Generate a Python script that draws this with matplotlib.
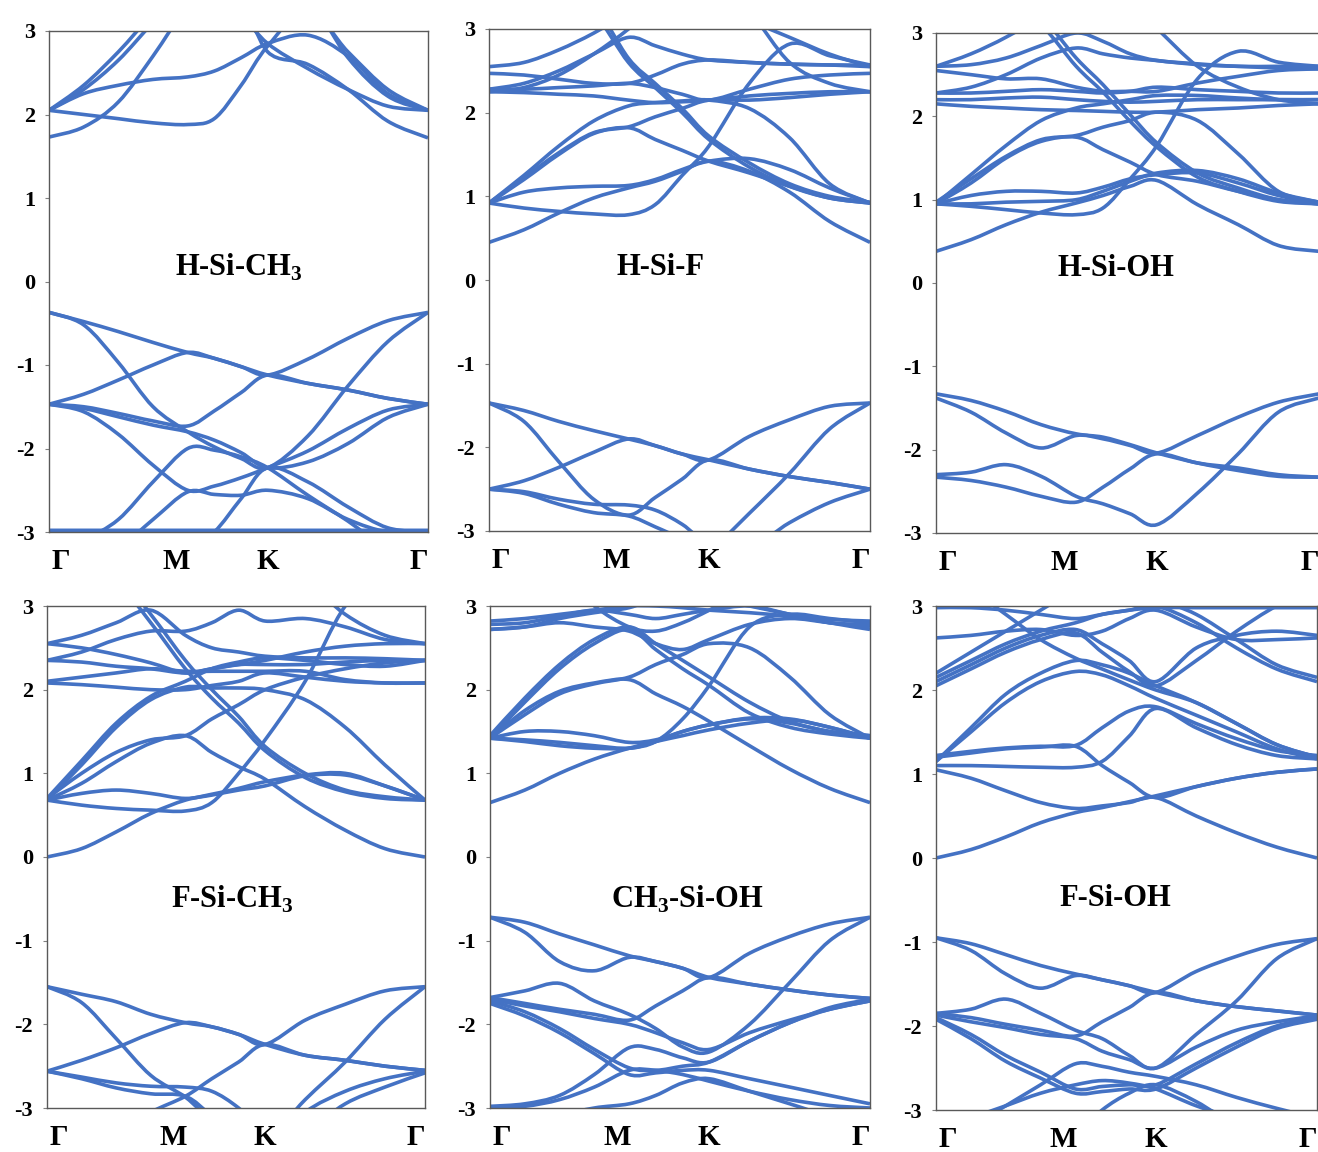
import matplotlib
matplotlib.use("Agg")
import matplotlib.pyplot as plt
from matplotlib.path import Path
from matplotlib.patches import PathPatch
import numpy as np

plt.rcParams['font.family'] = ['Liberation Serif', 'DejaVu Serif']
plt.rcParams['font.weight'] = 'bold'
plt.rcParams['axes.unicode_minus'] = False
plt.rcParams['mathtext.fontset'] = 'custom'
plt.rcParams['mathtext.rm'] = 'Liberation Serif'
plt.rcParams['mathtext.bf'] = 'Liberation Serif:bold'

# k-path sample positions (fraction of the Gamma-M-K-Gamma path)
kpts = [0.0, 0.0915, 0.183, 0.2745, 0.366, 0.436, 0.507, 0.577, 0.683, 0.789, 0.894, 1.0]
k_labels = ['Γ', 'M', 'K', 'Γ']
yticks = [-3, -2, -1, 0, 1, 2, 3]
ytick_labels = ['-3', '-2', '-1', '0', '1', '2', '3']

names = ['H-Si-CH$_\\mathbf{3}$', 'H-Si-F', 'H-Si-OH',
         'F-Si-CH$_\\mathbf{3}$', 'CH$_\\mathbf{3}$-Si-OH', 'F-Si-OH']

# band energies (eV) read at the kpts positions
h_si_ch3 = [
    [1.73, 1.85, 2.15, 2.7, 3.3, 3.5, 3.4, 2.75, 2.6, 2.3, 1.92, 1.72],
    [2.05, 2.0, 1.95, 1.9, 1.88, 1.95, 2.35, 2.82, 3.25, 2.75, 2.3, 2.05],
    [2.05, 2.25, 2.35, 2.42, 2.45, 2.52, 2.68, 2.85, 2.95, 2.7, 2.25, 2.05],
    [2.05, 2.3, 2.65, 3.1, 3.5, 3.5, 3.2, 2.85, 2.55, 2.3, 2.1, 2.05],
    [2.05, 2.35, 2.75, 3.2, 3.5, 3.6, 3.6, 3.6, 3.4, 2.68, 2.22, 2.05],
    [-0.37, -0.48, -0.6, -0.73, -0.85, -0.92, -1.02, -1.12, -1.22, -1.3, -1.4, -1.47],
    [-1.47, -1.35, -1.18, -1.0, -0.85, -0.92, -1.02, -1.12, -0.93, -0.68, -0.47, -0.37],
    [-0.37, -0.52, -0.97, -1.5, -1.8, -1.98, -2.12, -2.23, -1.85, -1.25, -0.72, -0.37],
    [-1.47, -1.5, -1.58, -1.67, -1.73, -1.55, -1.33, -1.12, -1.22, -1.3, -1.4, -1.47],
    [-1.47, -1.56, -1.83, -2.2, -2.5, -2.45, -2.35, -2.23, -2.03, -1.76, -1.54, -1.47],
    [-1.47, -1.52, -1.62, -1.72, -1.8, -1.9, -2.05, -2.23, -2.16, -1.94, -1.63, -1.47],
    [-3.3, -3.1, -2.85, -2.4, -2.0, -2.02, -2.1, -2.23, -2.56, -2.87, -3.2, -3.3],
    [-3.5, -3.4, -3.2, -2.85, -2.52, -2.55, -2.56, -2.5, -2.6, -2.85, -3.0, -3.0],
    [-3.6, -3.6, -3.6, -3.4, -3.2, -3.0, -2.6, -2.23, -2.4, -2.7, -2.95, -3.0],
    [-2.98, -2.98, -2.98, -2.98, -2.98, -2.98, -2.98, -2.98, -2.98, -2.98, -2.98, -2.98],
]

h_si_f = [
    [0.45, 0.6, 0.8, 0.98, 1.1, 1.18, 1.3, 1.42, 1.3, 1.05, 0.7, 0.45],
    [0.92, 0.86, 0.82, 0.79, 0.78, 0.9, 1.25, 1.6, 2.35, 2.82, 2.68, 2.57],
    [0.92, 1.05, 1.1, 1.12, 1.13, 1.2, 1.32, 1.42, 1.45, 1.32, 1.1, 0.92],
    [0.92, 1.2, 1.5, 1.75, 1.82, 1.68, 1.55, 1.42, 1.28, 1.12, 0.98, 0.92],
    [0.92, 1.25, 1.6, 1.9, 2.08, 2.12, 2.14, 2.15, 2.05, 1.7, 1.15, 0.92],
    [0.92, 1.22, 1.52, 1.76, 1.83, 1.95, 2.05, 2.15, 2.15, 2.18, 2.22, 2.25],
    [3.5, 3.5, 3.5, 3.2, 2.6, 2.3, 2.0, 1.68, 1.35, 1.12, 0.98, 0.92],
    [3.6, 3.6, 3.6, 3.3, 2.65, 2.35, 2.05, 1.72, 1.4, 1.15, 1.0, 0.93],
    [2.25, 2.24, 2.22, 2.2, 2.15, 2.12, 2.13, 2.15, 2.2, 2.23, 2.25, 2.25],
    [2.28, 2.28, 2.3, 2.32, 2.35, 2.3, 2.22, 2.15, 2.28, 2.4, 2.45, 2.47],
    [2.47, 2.45, 2.4, 2.35, 2.35, 2.45, 2.58, 2.63, 2.6, 2.58, 2.57, 2.55],
    [2.25, 2.3, 2.45, 2.7, 3.0, 3.3, 3.5, 3.5, 3.2, 2.6, 2.35, 2.25],
    [2.28, 2.35, 2.5, 2.7, 2.9, 2.8, 2.7, 2.63, 2.6, 2.58, 2.57, 2.57],
    [2.55, 2.6, 2.75, 2.95, 3.2, 3.4, 3.4, 3.3, 3.1, 2.9, 2.7, 2.55],
    [-1.47, -1.56, -1.69, -1.8, -1.9, -1.98, -2.08, -2.15, -1.87, -1.67, -1.51, -1.47],
    [-2.5, -2.4, -2.24, -2.06, -1.9, -1.98, -2.08, -2.15, -2.26, -2.35, -2.42, -2.5],
    [-1.47, -1.69, -2.17, -2.62, -2.81, -2.6, -2.38, -2.15, -2.26, -2.35, -2.42, -2.5],
    [-3.6, -3.6, -3.6, -3.6, -3.6, -3.5, -3.4, -3.25, -2.79, -2.31, -1.78, -1.47],
    [-2.5, -2.53, -2.62, -2.68, -2.69, -2.75, -2.92, -3.15, -3.2, -2.9, -2.66, -2.5],
    [-2.5, -2.55, -2.68, -2.78, -2.82, -2.95, -3.1, -3.3, -3.5, -3.5, -3.5, -3.5],
]

h_si_oh = [
    [0.38, 0.52, 0.7, 0.85, 0.96, 1.05, 1.16, 1.23, 0.94, 0.7, 0.45, 0.38],
    [0.95, 0.92, 0.88, 0.84, 0.82, 0.9, 1.25, 1.65, 2.45, 2.78, 2.65, 2.6],
    [0.95, 1.05, 1.1, 1.1, 1.08, 1.15, 1.25, 1.3, 1.32, 1.2, 1.05, 0.95],
    [0.95, 0.95, 0.97, 0.98, 1.0, 1.1, 1.22, 1.32, 1.35, 1.25, 1.08, 0.97],
    [0.95, 1.2, 1.5, 1.7, 1.75, 1.6, 1.45, 1.3, 1.22, 1.1, 1.0, 0.95],
    [0.97, 1.25, 1.52, 1.72, 1.77, 1.87, 1.95, 2.05, 1.95, 1.55, 1.1, 0.97],
    [0.95, 1.3, 1.65, 1.95, 2.1, 2.15, 2.2, 2.25, 2.25, 2.22, 2.2, 2.2],
    [3.5, 3.5, 3.4, 3.1, 2.6, 2.29, 1.94, 1.63, 1.27, 1.1, 0.98, 0.95],
    [3.6, 3.6, 3.5, 3.2, 2.7, 2.38, 2.02, 1.68, 1.32, 1.14, 1.0, 0.95],
    [2.15, 2.12, 2.1, 2.08, 2.07, 2.06, 2.05, 2.05, 2.08, 2.1, 2.13, 2.15],
    [2.2, 2.2, 2.22, 2.23, 2.2, 2.18, 2.17, 2.18, 2.2, 2.2, 2.2, 2.2],
    [2.28, 2.28, 2.3, 2.32, 2.3, 2.28, 2.3, 2.35, 2.32, 2.3, 2.28, 2.28],
    [2.55, 2.5, 2.45, 2.45, 2.35, 2.3, 2.3, 2.3, 2.4, 2.48, 2.55, 2.57],
    [2.6, 2.62, 2.7, 2.85, 3.0, 2.9, 2.75, 2.67, 2.63, 2.6, 2.6, 2.6],
    [2.6, 2.75, 2.95, 3.2, 3.5, 3.6, 3.6, 3.6, 3.6, 3.6, 3.6, 3.6],
    [3.6, 3.6, 3.6, 3.6, 3.6, 3.6, 3.3, 3.05, 2.6, 2.35, 2.2, 2.15],
    [2.28, 2.35, 2.5, 2.7, 2.82, 2.75, 2.7, 2.67, 2.62, 2.6, 2.58, 2.57],
    [-1.33, -1.41, -1.54, -1.7, -1.81, -1.85, -1.94, -2.04, -2.16, -2.25, -2.32, -2.33],
    [-1.38, -1.55, -1.8, -1.98, -1.83, -1.87, -1.95, -2.04, -1.83, -1.61, -1.43, -1.33],
    [-2.3, -2.27, -2.18, -2.32, -2.56, -2.65, -2.77, -2.9, -2.52, -2.05, -1.55, -1.38],
    [-2.33, -2.37, -2.45, -2.56, -2.63, -2.45, -2.23, -2.05, -2.16, -2.22, -2.3, -2.33],
]

f_si_ch3 = [
    [0.0, 0.1, 0.3, 0.52, 0.68, 0.74, 0.8, 0.85, 0.97, 0.98, 0.85, 0.68],
    [0.68, 0.62, 0.58, 0.56, 0.55, 0.65, 1.0, 1.4, 2.1, 3.0, 3.4, 3.4],
    [0.68, 0.88, 1.14, 1.36, 1.45, 1.25, 1.08, 0.93, 0.6, 0.32, 0.1, 0.0],
    [0.68, 0.76, 0.8, 0.76, 0.7, 0.75, 0.82, 0.9, 0.98, 1.0, 0.85, 0.68],
    [0.68, 1.1, 1.55, 1.88, 2.03, 2.02, 2.02, 2.0, 1.88, 1.55, 1.1, 0.68],
    [0.7, 1.15, 1.6, 1.92, 2.1, 2.25, 2.33, 2.38, 2.35, 2.3, 2.28, 2.35],
    [3.5, 3.5, 3.3, 2.8, 2.25, 1.9, 1.6, 1.27, 0.95, 0.78, 0.7, 0.68],
    [3.6, 3.6, 3.4, 2.9, 2.35, 2.0, 1.68, 1.32, 1.0, 0.8, 0.72, 0.68],
    [0.7, 1.0, 1.25, 1.4, 1.45, 1.65, 1.82, 2.0, 2.15, 2.25, 2.32, 2.35],
    [2.08, 2.06, 2.03, 2.0, 2.0, 2.05, 2.1, 2.2, 2.15, 2.1, 2.08, 2.08],
    [2.1, 2.15, 2.2, 2.25, 2.22, 2.22, 2.22, 2.22, 2.22, 2.12, 2.08, 2.08],
    [2.35, 2.33, 2.28, 2.25, 2.2, 2.25, 2.3, 2.3, 2.3, 2.33, 2.35, 2.35],
    [2.55, 2.5, 2.42, 2.32, 2.2, 2.25, 2.3, 2.35, 2.45, 2.52, 2.55, 2.55],
    [2.55, 2.65, 2.8, 2.95, 2.65, 2.5, 2.45, 2.4, 2.38, 2.38, 2.37, 2.35],
    [2.35, 2.45, 2.6, 2.7, 2.7, 2.8, 2.95, 2.82, 2.85, 2.75, 2.6, 2.55],
    [3.6, 3.6, 3.6, 3.6, 3.6, 3.6, 3.6, 3.5, 3.3, 2.9, 2.65, 2.55],
    [-1.55, -1.64, -1.73, -1.88, -1.98, -2.03, -2.12, -2.24, -2.37, -2.43, -2.5, -2.55],
    [-2.56, -2.43, -2.28, -2.11, -1.98, -2.03, -2.12, -2.24, -1.95, -1.76, -1.6, -1.55],
    [-1.55, -1.74, -2.17, -2.61, -2.87, -3.15, -3.3, -3.4, -2.9, -2.45, -1.94, -1.55],
    [-2.56, -2.63, -2.7, -2.74, -2.75, -2.8, -3.0, -3.3, -3.5, -3.5, -3.5, -3.5],
    [-2.56, -2.65, -2.76, -2.83, -2.86, -3.1, -3.4, -3.5, -3.6, -3.6, -3.6, -3.6],
    [-3.6, -3.5, -3.3, -3.05, -2.86, -2.65, -2.45, -2.24, -2.37, -2.43, -2.5, -2.55],
    [-3.6, -3.6, -3.6, -3.6, -3.6, -3.6, -3.6, -3.5, -3.05, -2.8, -2.65, -2.56],
    [-3.6, -3.6, -3.6, -3.6, -3.6, -3.6, -3.6, -3.6, -3.3, -2.95, -2.75, -2.58],
]

ch3_si_oh = [
    [0.65, 0.8, 1.0, 1.17, 1.3, 1.38, 1.45, 1.52, 1.6, 1.64, 1.55, 1.42],
    [1.42, 1.4, 1.37, 1.33, 1.3, 1.38, 1.5, 1.58, 1.66, 1.65, 1.55, 1.42],
    [1.42, 1.5, 1.5, 1.45, 1.37, 1.4, 1.5, 1.58, 1.65, 1.6, 1.5, 1.45],
    [1.42, 1.38, 1.33, 1.3, 1.3, 1.38, 1.65, 2.05, 2.75, 2.9, 2.85, 2.8],
    [1.42, 1.75, 1.98, 2.08, 2.12, 1.95, 1.8, 1.62, 1.33, 1.05, 0.82, 0.65],
    [1.42, 1.85, 2.25, 2.55, 2.72, 2.48, 2.25, 2.05, 1.72, 1.55, 1.47, 1.42],
    [1.45, 1.9, 2.3, 2.6, 2.75, 2.55, 2.35, 2.15, 1.85, 1.62, 1.5, 1.45],
    [1.42, 1.7, 1.95, 2.07, 2.15, 2.3, 2.42, 2.55, 2.5, 2.15, 1.7, 1.42],
    [2.72, 2.75, 2.8, 2.75, 2.7, 2.55, 2.48, 2.6, 2.78, 2.85, 2.8, 2.75],
    [2.72, 2.75, 2.85, 2.92, 2.98, 3.1, 3.2, 3.1, 3.0, 2.9, 2.8, 2.72],
    [2.78, 2.8, 2.88, 2.95, 2.9, 2.85, 2.9, 2.95, 3.0, 2.9, 2.8, 2.78],
    [2.82, 2.85, 2.9, 2.95, 3.0, 3.0, 2.98, 2.95, 2.92, 2.88, 2.84, 2.82],
    [3.6, 3.6, 3.4, 3.0, 2.75, 2.7, 2.8, 2.95, 3.2, 3.4, 3.4, 3.4],
    [-0.72, -0.78, -0.92, -1.05, -1.18, -1.25, -1.33, -1.44, -1.52, -1.59, -1.65, -1.69],
    [-0.72, -0.9, -1.25, -1.36, -1.2, -1.25, -1.33, -1.44, -1.15, -0.95, -0.8, -0.72],
    [-1.68, -1.6, -1.51, -1.72, -1.88, -2.05, -2.27, -2.33, -2.0, -1.5, -1.0, -0.72],
    [-1.68, -1.75, -1.82, -1.88, -1.95, -1.78, -1.6, -1.44, -1.52, -1.59, -1.65, -1.69],
    [-1.7, -1.78, -1.85, -1.93, -2.0, -2.1, -2.22, -2.3, -2.1, -1.95, -1.82, -1.72],
    [-1.72, -1.85, -2.05, -2.3, -2.52, -2.55, -2.5, -2.45, -2.2, -1.98, -1.82, -1.72],
    [-1.75, -1.9, -2.1, -2.35, -2.6, -2.58, -2.55, -2.55, -2.65, -2.75, -2.85, -2.95],
    [-2.98, -2.95, -2.85, -2.6, -2.28, -2.3, -2.4, -2.45, -2.2, -1.98, -1.8, -1.7],
    [-3.0, -2.98, -2.9, -2.75, -2.55, -2.55, -2.6, -2.68, -2.8, -2.9, -2.97, -3.0],
    [-3.5, -3.3, -3.1, -3.0, -2.95, -2.85, -2.7, -2.65, -2.8, -2.95, -3.1, -3.2],
]

f_si_oh = [
    [0.0, 0.1, 0.25, 0.42, 0.54, 0.6, 0.67, 0.74, 0.85, 0.95, 1.02, 1.06],
    [1.05, 0.95, 0.8, 0.66, 0.59, 0.62, 0.66, 0.72, 0.5, 0.3, 0.13, 0.0],
    [1.1, 1.1, 1.09, 1.08, 1.08, 1.15, 1.45, 1.78, 1.55, 1.35, 1.22, 1.18],
    [1.2, 1.25, 1.3, 1.32, 1.33, 1.1, 0.9, 0.72, 0.85, 0.95, 1.02, 1.06],
    [1.22, 1.27, 1.31, 1.33, 1.34, 1.55, 1.75, 1.8, 1.6, 1.42, 1.28, 1.22],
    [1.15, 1.5, 1.85, 2.1, 2.22, 2.18, 2.05, 1.9, 1.7, 1.5, 1.3, 1.18],
    [1.15, 1.55, 1.95, 2.2, 2.35, 2.3, 2.2, 2.05, 1.85, 1.6, 1.35, 1.2],
    [3.5, 3.2, 2.9, 2.6, 2.38, 2.25, 2.12, 2.0, 1.85, 1.6, 1.35, 1.2],
    [2.05, 2.25, 2.45, 2.6, 2.68, 2.45, 2.22, 2.05, 2.35, 2.7, 3.0, 3.2],
    [2.1, 2.3, 2.5, 2.65, 2.72, 2.55, 2.35, 2.1, 2.5, 2.65, 2.7, 2.65],
    [2.15, 2.35, 2.55, 2.7, 2.8, 2.9, 2.95, 3.0, 2.8, 2.5, 2.25, 2.1],
    [2.2, 2.45, 2.7, 2.95, 3.2, 3.4, 3.3, 3.1, 2.9, 2.6, 2.3, 2.15],
    [2.62, 2.65, 2.7, 2.72, 2.65, 2.7, 2.85, 2.95, 2.75, 2.6, 2.6, 2.62],
    [2.98, 2.98, 2.95, 2.9, 2.85, 2.9, 2.95, 2.98, 2.98, 2.98, 2.98, 2.98],
    [-0.95, -1.02, -1.15, -1.28, -1.38, -1.45, -1.52, -1.6, -1.7, -1.77, -1.82, -1.87],
    [-0.95, -1.1, -1.38, -1.55, -1.4, -1.45, -1.52, -1.6, -1.35, -1.17, -1.03, -0.96],
    [-1.85, -1.8, -1.68, -1.85, -2.05, -2.15, -2.35, -2.5, -2.1, -1.7, -1.2, -0.96],
    [-1.85, -1.9, -1.98, -2.05, -2.12, -1.95, -1.78, -1.6, -1.7, -1.77, -1.82, -1.87],
    [-1.87, -1.95, -2.02, -2.1, -2.15, -2.3, -2.4, -2.5, -2.25, -2.05, -1.95, -1.88],
    [-1.9, -2.1, -2.35, -2.55, -2.75, -2.72, -2.7, -2.7, -2.45, -2.2, -2.0, -1.9],
    [-1.92, -2.15, -2.42, -2.62, -2.8, -2.78, -2.75, -2.75, -2.5, -2.25, -2.03, -1.92],
    [-3.5, -3.2, -2.95, -2.7, -2.45, -2.48, -2.55, -2.6, -2.7, -2.85, -2.98, -3.1],
    [-3.3, -3.1, -2.95, -2.8, -2.7, -2.65, -2.68, -2.75, -2.95, -3.1, -3.2, -3.3],
    [-3.6, -3.6, -3.6, -3.5, -3.3, -3.0, -2.8, -2.7, -2.9, -3.2, -3.4, -3.5],
]

panels = [h_si_ch3, h_si_f, h_si_oh, f_si_ch3, ch3_si_oh, f_si_oh]

# axes boxes in pixels: left, top, right, bottom
W, H = 1318, 1152
boxes = [(49, 31, 428, 532), (489, 29, 870, 531), (936, 33, 1319, 533),
         (47, 606, 425, 1108), (490, 606, 870, 1108), (936, 606, 1317, 1110)]
title_pos = [(0.50, 0.528), (0.45, 0.524), (0.47, 0.53),
             (0.49, 0.416), (0.52, 0.415), (0.47, 0.419)]
klabel_x = [0.03, 0.335, 0.577, 0.975]
blue = '#4472C4'


def band_path(x, y):
    # smooth curve through the read points (Catmull-Rom as cubic Bezier)
    p = np.column_stack([x, y])
    n = len(p)
    verts = [p[0]]
    codes = [Path.MOVETO]
    for i in range(n - 1):
        p0 = p[max(i - 1, 0)]
        p1 = p[i]
        p2 = p[i + 1]
        p3 = p[min(i + 2, n - 1)]
        verts += [p1 + (p2 - p0) / 6, p2 - (p3 - p1) / 6, p2]
        codes += [Path.CURVE4] * 3
    return Path(verts, codes)


fig = plt.figure(figsize=(W / 100, H / 100), dpi=100)

for bands, (l, t, r, b), name, (tx, ty) in zip(panels, boxes, names, title_pos):
    ax = fig.add_axes([l / W, 1 - b / H, (r - l) / W, (b - t) / H])
    for e in bands:
        ax.add_patch(PathPatch(band_path(kpts, e), facecolor='none',
                               edgecolor=blue, lw=2.6, joinstyle='round'))
    ax.set_xlim(0, 1)
    ax.set_ylim(-3, 3)
    ax.set_xticks([])
    ax.set_yticks(yticks)
    ax.set_yticklabels(ytick_labels)
    ax.tick_params(axis='y', length=3, width=0.8, color='#808080',
                   labelsize=16, pad=7)
    for s in ax.spines.values():
        s.set_color('#595959')
        s.set_linewidth(1.0)
    for fx, lab in zip(klabel_x, k_labels):
        ax.text(fx, -0.058, lab, transform=ax.transAxes, ha='center',
                va='center', fontsize=21, fontweight='bold')
    ax.text(tx, ty, name, transform=ax.transAxes, ha='center', va='center',
            fontsize=22, fontweight='bold')

fig.savefig('out.png', dpi=100)
